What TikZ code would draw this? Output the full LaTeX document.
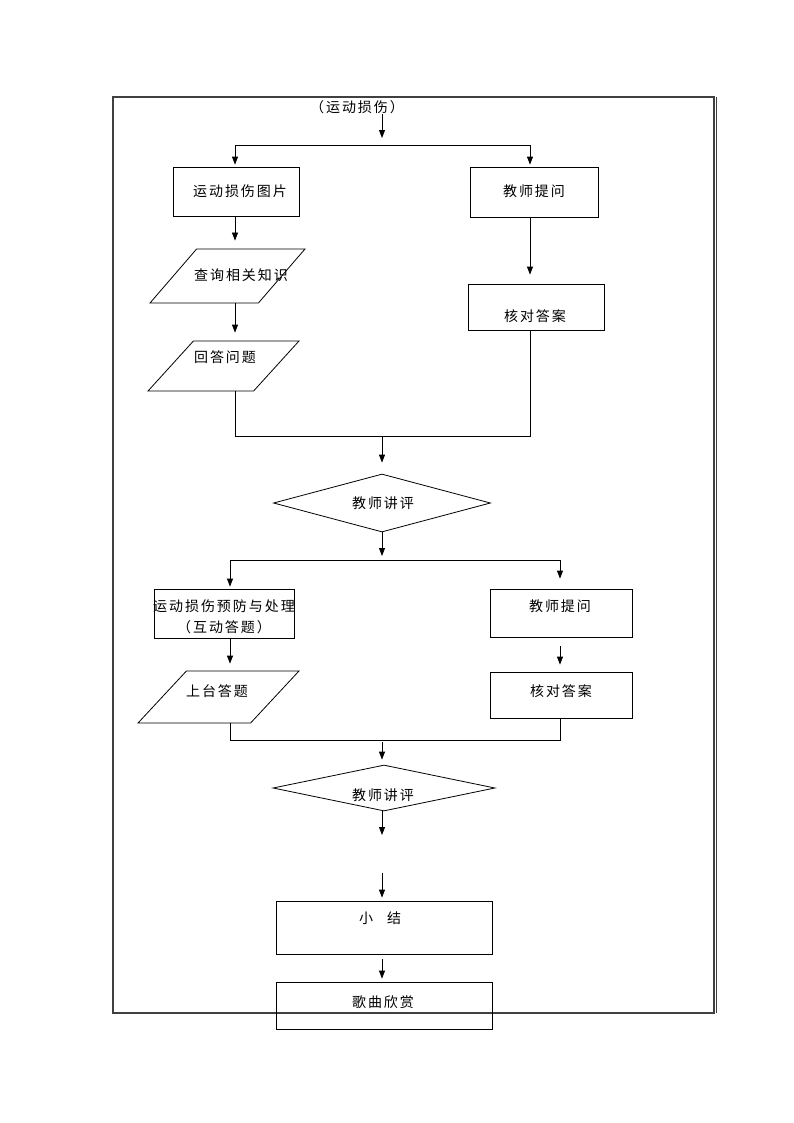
\documentclass[tikz,border=0pt]{standalone}
\usepackage{fontspec}
\usepackage{tikz}
\usetikzlibrary{shapes.geometric,arrows.meta}
\newfontfamily\cjk[LetterSpace=14]{Noto Sans CJK SC}

\tikzset{
  box/.style={draw, rectangle, line width=.8bp, inner sep=0pt},
  para/.style={draw, trapezium, trapezium stretches=true, trapezium left angle=53,
    trapezium right angle=127, line width=.8bp, inner sep=1bp},
  judge/.style={draw, diamond, line width=.8bp, inner sep=1bp},
  txt/.style={font=\cjk\fontsize{14bp}{17bp}\selectfont, inner sep=0pt, align=center},
  flow/.style={line width=.8bp, -{Triangle[length=8bp,width=6bp]}},
  link/.style={line width=.8bp},
}

\begin{document}
\begin{tikzpicture}[x=1bp,y=-1bp]
\useasboundingbox (0,0) rectangle (794,1123);
% table frame
\draw[line width=1.5bp, black!75] (113,97) rectangle (714,1013);
\draw[line width=.8bp, black!75] (716.5,97) -- (716.5,1013);

\node[txt] (topic) at (357,107) {（运动损伤）};
\coordinate (s1) at (382,145);
\coordinate (c1l) at (235,145);
\coordinate (c1r) at (530,145);

% first part
\node[box, minimum width=126bp, minimum height=49bp] (pic) at (236,191.5) {};
\node[txt] (pic-t) at (240,191) {运动损伤图片};
\node[para, minimum width=155bp, minimum height=54bp] (query) at (227.5,276) {};
\node[txt] (query-t) at (241,275) {查询相关知识};
\node[para, minimum width=151bp, minimum height=50bp] (reply) at (223.5,366) {};
\node[txt] (reply-t) at (225,357) {回答问题};
\node[box, minimum width=128bp, minimum height=50bp] (ask1) at (534,192) {};
\node[txt] (ask1-t) at (534,191) {教师提问};
\node[box, minimum width=136bp, minimum height=46bp] (check1) at (536,307) {};
\node[txt] (check1-t) at (535,316) {核对答案};

\draw[flow] (topic.south -| s1) -- ([yshift=7bp]s1);
\draw[link] (c1l) -- (c1r);
\draw[flow, shorten >=2bp] (c1l) -- (c1l |- pic.north);
\draw[flow, shorten >=2bp] (c1r) -- (c1r |- ask1.north);
\draw[flow, shorten >=8bp] (c1l |- pic.south) -- (c1l |- query.north);
\draw[flow, shorten >=8bp] (c1l |- query.south) -- (c1l |- reply.north);
\draw[flow, shorten >=9bp] (c1r |- ask1.south) -- (c1r |- check1.north);
\coordinate (m1) at (382,436);
\draw[link] (c1l |- reply.south) -- (c1l |- m1) -- (c1r |- m1) -- (c1r |- check1.south);

\node[judge, minimum width=217bp, minimum height=58bp] (review1) at (382,503) {};
\node[txt] (review1-t) at (383,503) {教师讲评};
\draw[flow, shorten >=11bp] (m1) -- (review1.north);

% second part
\coordinate (s2) at (382,560);
\coordinate (c2l) at (230,560);
\coordinate (c2r) at (560,560);
\draw[flow] (review1.south) -- ([yshift=4bp]s2);
\draw[link] (c2l) -- (c2r);

\node[box, minimum width=140bp, minimum height=49bp] (prevent) at (224,613.5) {};
\node[txt] (prevent-t) at (224,617) {运动损伤预防与处理\\[4bp]（互动答题）};
\node[para, minimum width=161bp, minimum height=52bp] (stage) at (218.5,697) {};
\node[txt] (stage-t) at (217,691) {上台答题};
\node[box, minimum width=142bp, minimum height=48bp] (ask2) at (561,613) {};
\node[txt] (ask2-t) at (560,606) {教师提问};
\node[box, minimum width=142bp, minimum height=46bp] (check2) at (561,695) {};
\node[txt] (check2-t) at (561,691) {核对答案};

\draw[flow, shorten >=2bp] (c2l) -- (c2l |- prevent.north);
\draw[flow, shorten >=10bp] (c2r) -- (c2r |- ask2.north);
\draw[flow, shorten >=7bp] (c2l |- prevent.south) -- (c2l |- stage.north);
\draw[flow, shorten <=9bp, shorten >=7bp] (c2r |- ask2.south) -- (c2r |- check2.north);
\coordinate (m2) at (382,740);
\draw[link] (c2l |- stage.south) -- (c2l |- m2) -- (c2r |- m2) -- (c2r |- check2.south);

\node[judge, minimum width=222bp, minimum height=46bp] (review2) at (384,788) {};
\node[txt] (review2-t) at (383,795) {教师讲评};
\draw[flow, shorten <=2bp, shorten >=5bp] (m2) -- (m2 |- review2.north);
\coordinate (e2) at (382,835);
\draw[flow] (m2 |- review2.south) -- (e2);

% ending
\coordinate (e3) at (382,873);
\node[box, minimum width=216bp, minimum height=53bp] (summary) at (384,927.5) {};
\node[txt] (summary-t) at (380,918) {小\hspace{1em}结};
\node[box, minimum width=216bp, minimum height=47bp] (song) at (384,1005.5) {};
\node[txt] (song-t) at (383,1002) {歌曲欣赏};
\draw[flow, shorten >=3bp] (e3) -- (e3 |- summary.north);
\draw[flow, shorten <=5bp, shorten >=3bp] (e3 |- summary.south) -- (e3 |- song.north);
\end{tikzpicture}
\end{document}
